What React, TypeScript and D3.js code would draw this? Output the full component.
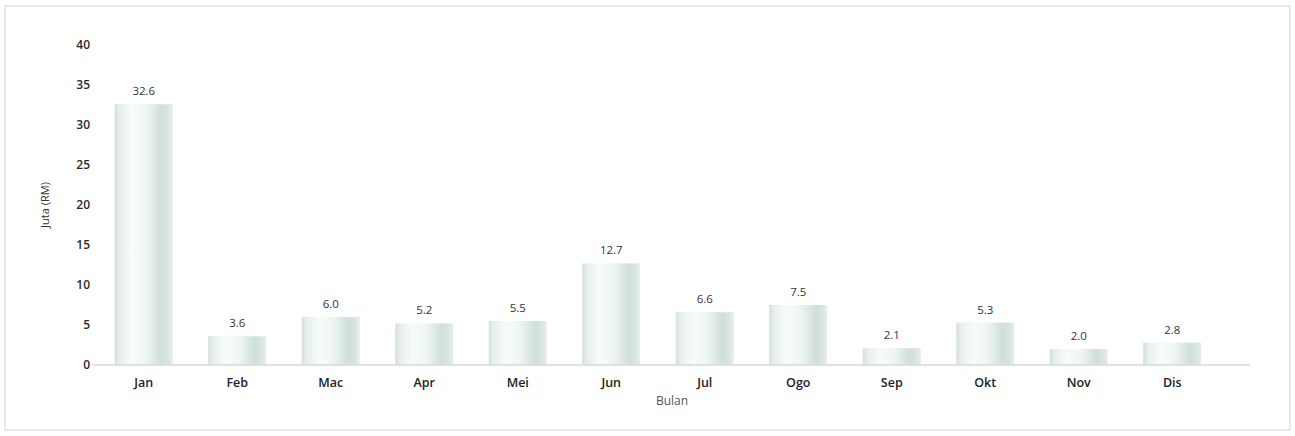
import { useEffect, useRef } from "react";
import * as d3 from "d3";

const months = ["Jan", "Feb", "Mac", "Apr", "Mei", "Jun", "Jul", "Ogo", "Sep", "Okt", "Nov", "Dis"];
const values = [32.6, 3.6, 6.0, 5.2, 5.5, 12.7, 6.6, 7.5, 2.1, 5.3, 2.0, 2.8];
const yTicks = [0, 5, 10, 15, 20, 25, 30, 35, 40];

const W = 1295;
const H = 436;
const FONT = "'Open Sans', 'DejaVu Sans', sans-serif";

export default function App() {
  const svgRef = useRef<SVGSVGElement>(null);

  useEffect(() => {
    if (!svgRef.current) return;
    const svg = d3.select(svgRef.current);
    svg.selectAll("*").remove();

    const x = d3.scaleBand<string>().domain(months).range([97, 1219]).paddingInner(0.38).paddingOuter(0.19);
    const y = d3.scaleLinear().domain([0, 40]).range([365, 45]);

    // bar gradient, cylinder-ish
    const defs = svg.append("defs");
    const grad = defs.append("linearGradient").attr("id", "barGrad").attr("x1", "0").attr("x2", "1").attr("y1", "0").attr("y2", "0");
    [
      [0, "#d3dfdc"],
      [0.08, "#e6efed"],
      [0.3, "#f7fcfb"],
      [0.55, "#edf5f3"],
      [0.8, "#cfdfdb"],
      [0.92, "#d9e5e2"],
      [1, "#e8eeed"],
    ].forEach(([o, c]) => grad.append("stop").attr("offset", o as number).attr("stop-color", c as string));

    // outer frame
    svg
      .append("rect")
      .attr("x", 5)
      .attr("y", 6)
      .attr("width", W - 10)
      .attr("height", H - 12)
      .attr("fill", "#fff")
      .attr("stroke", "#e2e2e2")
      .attr("stroke-width", 1.5);

    // y tick labels
    svg
      .append("g")
      .selectAll("text")
      .data(yTicks)
      .join("text")
      .attr("x", 90)
      .attr("y", (d) => y(d))
      .attr("dy", "0.35em")
      .attr("text-anchor", "end")
      .attr("font-family", FONT)
      .attr("font-size", 12)
      .attr("font-weight", 600)
      .attr("fill", "#2a2a2a")
      .text((d) => d);

    // bars
    svg
      .append("g")
      .selectAll("rect")
      .data(values)
      .join("rect")
      .attr("x", (_, i) => x(months[i])!)
      .attr("y", (d) => y(d))
      .attr("width", x.bandwidth())
      .attr("height", (d) => y(0) - y(d))
      .attr("fill", "url(#barGrad)");

    // baseline
    const [r0, r1] = x.range();
    svg
      .append("line")
      .attr("x1", r0 - 5)
      .attr("x2", r1 + 31)
      .attr("y1", y(0))
      .attr("y2", y(0))
      .attr("stroke", "#d9d9d9")
      .attr("stroke-width", 1.5);

    // value labels
    svg
      .append("g")
      .selectAll("text")
      .data(values)
      .join("text")
      .attr("x", (_, i) => x(months[i])! + x.bandwidth() / 2)
      .attr("y", (d) => y(d) - 9)
      .attr("text-anchor", "middle")
      .attr("font-family", FONT)
      .attr("font-size", 11.5)
      .attr("fill", "#333")
      .text((d) => d.toFixed(1));

    // month labels
    svg
      .append("g")
      .selectAll("text")
      .data(months)
      .join("text")
      .attr("x", (d) => x(d)! + x.bandwidth() / 2)
      .attr("y", 383)
      .attr("dy", "0.35em")
      .attr("text-anchor", "middle")
      .attr("font-family", FONT)
      .attr("font-size", 12.5)
      .attr("font-weight", 600)
      .attr("fill", "#222")
      .text((d) => d);

    svg
      .append("text")
      .attr("x", 672)
      .attr("y", 401)
      .attr("dy", "0.35em")
      .attr("text-anchor", "middle")
      .attr("font-family", FONT)
      .attr("font-size", 12)
      .attr("fill", "#555")
      .text("Bulan");

    svg
      .append("text")
      .attr("transform", `translate(45,205) rotate(-90)`)
      .attr("dy", "0.35em")
      .attr("text-anchor", "middle")
      .attr("font-family", FONT)
      .attr("font-size", 11)
      .attr("fill", "#333")
      .text("Juta (RM)");
  }, []);

  return (
    <svg
      ref={svgRef}
      width={W}
      height={H}
      style={{ position: "absolute", left: 0, top: 0, background: "#fff" }}
    />
  );
}
